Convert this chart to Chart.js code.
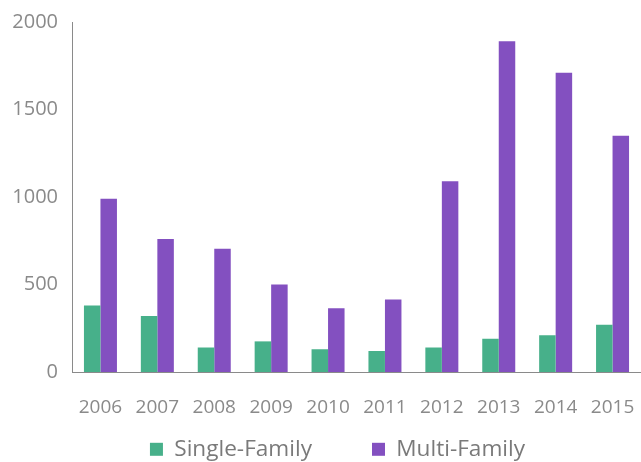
<!DOCTYPE html>
<html>
<head>
<meta charset="utf-8">
<script src="https://cdn.jsdelivr.net/npm/chart.js@4/dist/chart.umd.min.js"></script>
<style>
  body { margin: 0; background: #fff; }
  #wrap { width: 641px; height: 462px; position: relative; }
</style>
</head>
<body>
<div id="wrap"><canvas id="chart"></canvas></div>
<script>
const years = ['2006', '2007', '2008', '2009', '2010', '2011', '2012', '2013', '2014', '2015'];
const singleFamily = [380, 320, 140, 175, 130, 120, 140, 190, 210, 270];
const multiFamily = [990, 760, 705, 500, 365, 415, 1090, 1890, 1710, 1350];
const yTicks = [0, 500, 1000, 1500, 2000];

const tickColor = '#8a8a8a';
const legendGap = 60;

// wide gap between legend items, but keep the legend box short
const legendSpacing = {
  id: 'legendSpacing',
  beforeLayout(chart) {
    const lg = chart.legend;
    if (!lg || lg._patched) return;
    lg._patched = true;
    const fit = lg.fit;
    lg.fit = function () {
      fit.call(this);
      this.height = 44;
    };
    const draw = lg._draw;
    lg._draw = function () {
      const ctx = this.ctx;
      ctx.save();
      ctx.translate(17, -(legendGap - 20));
      draw.call(this);
      ctx.restore();
    };
  }
};

new Chart(document.getElementById('chart'), {
  type: 'bar',
  data: {
    labels: years,
    datasets: [
      { label: 'Single-Family', data: singleFamily, backgroundColor: '#47b08a' },
      { label: 'Multi-Family', data: multiFamily, backgroundColor: '#8350c0' }
    ]
  },
  options: {
    responsive: true,
    maintainAspectRatio: false,
    animation: false,
    layout: { padding: { top: 22, right: 0, left: 0, bottom: 0 } },
    datasets: { bar: { categoryPercentage: 0.58, barPercentage: 1 } },
    plugins: {
      legend: {
        position: 'bottom',
        labels: {
          color: '#7a7a7a',
          font: { family: 'Open Sans', size: 22.6 },
          boxWidth: 13,
          boxHeight: 13,
          padding: legendGap
        }
      },
      tooltip: { enabled: false }
    },
    scales: {
      x: {
        grid: { display: false, drawTicks: false, tickLength: 0 },
        border: { display: true, color: '#8a8a8a', width: 1 },
        ticks: { color: tickColor, font: { family: 'Open Sans', size: 19 }, padding: 24, maxRotation: 0 },
        afterFit: s => { s.paddingRight = 0; s.paddingLeft = 0; s.height = 46; }
      },
      y: {
        min: 0,
        max: 2000,
        afterBuildTicks: axis => { axis.ticks = yTicks.map(v => ({ value: v })); },
        grid: { display: false, drawTicks: false, tickLength: 0 },
        border: { display: true, color: '#8a8a8a', width: 1 },
        ticks: { color: tickColor, font: { family: 'Open Sans', size: 20 }, padding: 14, callback: v => String(v) },
        afterFit: s => { s.width = 72; s.paddingTop = 0; s.paddingBottom = 0; }
      }
    }
  },
  plugins: [legendSpacing]
});
</script>
</body>
</html>
